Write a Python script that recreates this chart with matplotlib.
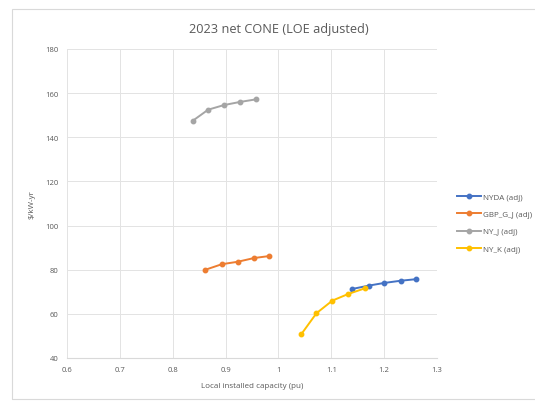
import matplotlib
matplotlib.use("Agg")
import matplotlib.pyplot as plt
from matplotlib.patches import Rectangle
from matplotlib.lines import Line2D

# Net CONE curves by locality ($/kW-yr vs. local installed capacity in pu)
nyda_x = [1.140, 1.171, 1.200, 1.231, 1.260]
nyda_y = [71.3, 72.8, 74.0, 75.0, 75.7]

gbp_x = [0.862, 0.893, 0.923, 0.954, 0.983]
gbp_y = [80.0, 82.5, 83.6, 85.3, 86.2]

nyj_x = [0.838, 0.867, 0.897, 0.927, 0.958]
nyj_y = [147.5, 152.5, 154.6, 156.0, 157.2]

nyk_x = [1.043, 1.072, 1.102, 1.132, 1.164]
nyk_y = [50.7, 60.3, 66.0, 69.0, 71.6]

series_names = ["NYDA (adj)", "GBP_G_J (adj)", "NY_J (adj)", "NY_K (adj)"]
series_colors = ["#4472C4", "#ED7D31", "#A5A5A5", "#FFC000"]

x_ticks = [0.6, 0.7, 0.8, 0.9, 1.0, 1.1, 1.2, 1.3]
x_tick_labels = ["0.6", "0.7", "0.8", "0.9", "1", "1.1", "1.2", "1.3"]
y_ticks = [40, 60, 80, 100, 120, 140, 160, 180]

plt.rcParams["font.family"] = ["Open Sans", "DejaVu Sans"]
text_color = "#595959"

fig = plt.figure(figsize=(5.35, 4.02), dpi=100)
fig.patch.set_facecolor("white")

# Chart-area border
fig.add_artist(Rectangle((12 / 535, 2 / 402), 540 / 535, 390 / 402,
                         transform=fig.transFigure, fill=False,
                         edgecolor="#D9D9D9", linewidth=0.8))

ax = fig.add_axes([67 / 535, 1 - 359 / 402, 370 / 535, 309 / 402])

data = [(nyda_x, nyda_y), (gbp_x, gbp_y), (nyj_x, nyj_y), (nyk_x, nyk_y)]
for i, (xs, ys) in enumerate(data):
    ax.plot(xs, ys, color=series_colors[i], marker="o", markersize=3.2,
            linewidth=1.4, zorder=3)

ax.set_xlim(0.6, 1.3)
ax.set_ylim(40, 180)
ax.set_xticks(x_ticks)
ax.set_xticklabels(x_tick_labels)
ax.set_yticks(y_ticks)
ax.grid(True, color="#E3E3E3", linewidth=0.7)
ax.set_axisbelow(True)
for side in ["top", "right", "left"]:
    ax.spines[side].set_visible(False)
ax.spines["bottom"].set_color("#D9D9D9")
ax.tick_params(axis="both", length=0, labelsize=5.5, colors=text_color, pad=6)

ax.set_xlabel("Local installed capacity (pu)", fontsize=5.8, color=text_color,
              labelpad=6)
ax.set_ylabel("$/kW-yr", fontsize=5.8, color=text_color, labelpad=7)

fig.text(279 / 535, 1 - 30 / 402, "2023 net CONE (LOE adjusted)",
         ha="center", va="center", fontsize=9.2, color=text_color)

handles = [Line2D([0], [0], color=c, marker="o", markersize=3.2, linewidth=1.4)
           for c in series_colors]
leg = fig.legend(handles, series_names, loc="upper left",
                 bbox_to_anchor=(454 / 535, 1 - 191 / 402), frameon=False,
                 fontsize=5.8, handlelength=3.0, labelspacing=1.2,
                 handletextpad=0.15, borderaxespad=0)
for t in leg.get_texts():
    t.set_color(text_color)

fig.savefig("out.png", dpi=100, facecolor="white")
